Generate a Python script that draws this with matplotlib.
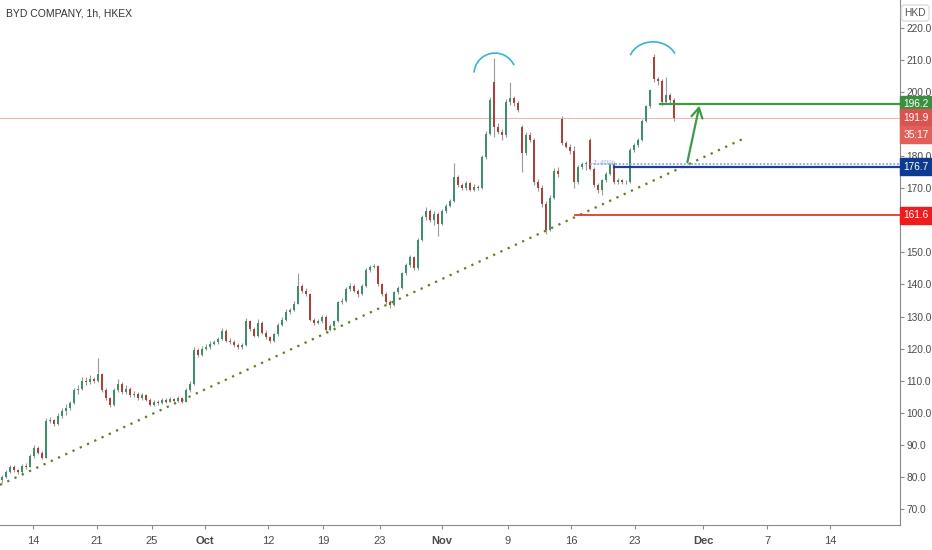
import numpy as np
import matplotlib.pyplot as plt
from matplotlib.patches import Arc
import matplotlib.transforms as mtransforms

plt.rcParams['font.family'] = ['Liberation Sans Narrow', 'Liberation Sans', 'DejaVu Sans']

# hourly-ish candles (about 3 bars per trading day)
opens = [79.0, 80.0, 81.5, 83.0, 82.0, 81.5, 83.5, 83.2, 86.5, 89.0,
         87.5, 86.0, 97.5, 97.8, 96.5, 99.0, 100.5, 101.5, 103.0, 107.0,
         107.5, 110.0, 109.5, 110.5, 110.0, 112.0, 107.0, 104.5, 102.5, 107.0,
         109.0, 106.5, 107.5, 105.5, 106.0, 104.5, 105.5, 104.0, 102.5, 103.5,
         103.0, 104.0, 103.5, 104.2, 103.8, 104.5, 103.5, 107.0, 109.0, 119.5,
         118.0, 120.0, 120.5, 121.5, 122.0, 123.0, 125.5, 122.5, 122.0, 121.0,
         120.5, 121.0, 128.5, 126.0, 124.0, 128.0, 125.0, 123.5, 122.5, 124.5,
         127.5, 129.0, 131.5, 132.0, 134.0, 139.5, 138.0, 137.0, 129.0, 128.0,
         128.5, 130.0, 125.8, 127.0, 128.5, 134.5, 135.0, 138.5, 139.5, 138.0,
         137.0, 139.5, 144.5, 145.5, 145.8, 140.0, 137.0, 134.5, 133.5, 137.5,
         139.0, 143.5, 146.0, 148.5, 145.0, 154.0, 161.0, 163.0, 160.0, 162.0,
         159.0, 163.0, 164.5, 166.0, 173.5, 171.0, 170.0, 171.5, 169.5, 170.5,
         170.0, 179.8, 187.0, 203.0, 189.0, 187.5, 186.5, 197.0, 198.0, 196.5,
         189.0, 181.0, 186.5, 185.0, 172.0, 170.0, 165.0, 157.0, 167.0, 175.5,
         191.5, 184.0, 183.0, 181.5, 172.0, 176.5, 177.5, 185.0, 176.0, 171.0,
         169.5, 172.5, 174.5, 177.5, 172.0, 172.5, 171.8, 172.0, 182.0, 183.5,
         185.0, 191.0, 195.5, 211.0, 204.0, 203.5, 197.0, 199.0, 197.5]
highs = [80.5, 82.0, 83.8, 83.6, 82.6, 84.0, 84.2, 87.0, 90.0, 89.6,
         88.0, 98.5, 98.8, 98.2, 99.8, 101.5, 102.6, 103.8, 107.8, 108.5,
         111.2, 111.0, 111.8, 111.2, 117.0, 112.5, 107.6, 105.0, 107.6, 110.4,
         109.5, 108.8, 108.0, 106.8, 106.5, 106.2, 106.0, 104.6, 104.0, 104.0,
         104.6, 104.5, 104.8, 104.6, 105.2, 105.0, 107.6, 109.8, 120.5, 120.2,
         120.8, 121.4, 122.4, 122.8, 123.6, 126.5, 126.0, 123.2, 122.6, 121.6,
         121.8, 129.5, 129.0, 126.6, 129.2, 128.6, 125.8, 124.0, 125.0, 128.0,
         129.8, 132.4, 132.8, 134.8, 143.6, 140.2, 138.8, 137.4, 129.6, 129.2,
         130.6, 130.4, 127.6, 129.0, 135.0, 135.8, 139.2, 140.6, 140.0, 138.6,
         140.2, 145.0, 146.2, 146.4, 146.2, 140.6, 137.5, 135.2, 138.0, 139.6,
         144.0, 146.8, 149.2, 149.0, 154.6, 161.8, 164.2, 163.6, 162.8, 162.5,
         163.6, 165.2, 166.8, 178.0, 174.2, 171.6, 172.2, 172.0, 171.4, 171.0,
         180.4, 188.0, 198.4, 210.6, 190.2, 188.4, 197.8, 203.0, 198.8, 197.2,
         189.6, 187.4, 187.6, 185.6, 173.0, 171.0, 166.0, 167.8, 176.2, 176.6,
         192.5, 184.8, 183.8, 183.2, 177.2, 178.2, 178.6, 185.6, 176.6, 171.6,
         173.0, 175.0, 178.0, 178.2, 173.2, 173.0, 172.6, 182.6, 184.2, 185.8,
         191.6, 196.0, 200.8, 212.0, 204.8, 204.0, 204.7, 199.8, 198.0]
lows = [78.2, 79.6, 81.2, 81.5, 80.8, 81.2, 82.6, 83.0, 86.0, 87.0,
        85.5, 85.8, 96.8, 95.8, 96.2, 98.5, 99.4, 100.8, 102.6, 105.8,
        107.0, 108.6, 109.0, 109.2, 109.6, 106.5, 104.0, 101.8, 102.0, 106.5,
        106.0, 106.0, 105.0, 105.0, 104.0, 104.0, 103.6, 102.0, 102.0, 102.5,
        102.6, 103.0, 103.2, 103.2, 103.5, 103.0, 103.2, 106.6, 108.8, 117.5,
        117.6, 119.5, 120.0, 121.0, 121.5, 122.6, 122.0, 121.4, 120.6, 119.8,
        120.0, 120.8, 125.5, 123.5, 123.6, 124.5, 123.0, 121.6, 122.0, 124.0,
        127.0, 128.6, 130.8, 131.6, 133.8, 137.4, 136.4, 128.5, 127.4, 127.6,
        128.0, 125.2, 125.4, 126.6, 128.2, 134.0, 134.6, 138.0, 137.5, 136.2,
        136.6, 139.2, 144.0, 145.0, 139.5, 136.5, 134.0, 132.8, 133.2, 137.0,
        138.6, 143.0, 145.6, 144.5, 144.6, 153.6, 160.0, 159.5, 158.6, 155.0,
        158.5, 162.4, 164.0, 165.6, 170.5, 169.4, 169.6, 169.0, 169.0, 169.4,
        169.8, 179.2, 186.6, 186.0, 186.8, 185.0, 186.0, 196.0, 195.6, 193.8,
        175.0, 180.4, 184.4, 171.0, 169.0, 164.0, 155.6, 156.6, 166.6, 173.6,
        183.4, 182.4, 180.8, 170.0, 171.4, 176.0, 175.8, 175.6, 170.4, 168.6,
        168.0, 172.0, 174.0, 171.4, 171.4, 171.2, 171.2, 171.6, 181.4, 183.0,
        184.6, 190.6, 195.0, 203.0, 202.2, 196.0, 196.6, 196.4, 191.0]
closes = [80.0, 81.5, 83.0, 82.0, 81.5, 83.5, 83.2, 86.5, 89.0, 87.5,
          86.0, 97.5, 97.8, 96.5, 99.0, 100.5, 101.5, 103.0, 107.0, 107.5,
          110.0, 109.5, 110.5, 110.0, 112.0, 107.0, 104.5, 102.5, 107.0, 109.0,
          106.5, 107.5, 105.5, 106.0, 104.5, 105.5, 104.0, 102.5, 103.5, 103.0,
          104.0, 103.5, 104.2, 103.8, 104.5, 103.5, 107.0, 109.0, 119.5, 118.0,
          120.0, 120.5, 121.5, 122.0, 123.0, 125.5, 122.5, 122.0, 121.0, 120.5,
          121.0, 128.5, 126.0, 124.0, 128.0, 125.0, 123.5, 122.5, 124.5, 127.5,
          129.0, 131.5, 132.0, 134.0, 139.5, 138.0, 137.0, 129.0, 128.0, 128.5,
          130.0, 125.8, 127.0, 128.5, 134.5, 135.0, 138.5, 139.5, 138.0, 137.0,
          139.5, 144.5, 145.5, 145.8, 140.0, 137.0, 134.5, 133.5, 137.5, 139.0,
          143.5, 146.0, 148.5, 145.0, 154.0, 161.0, 163.0, 160.0, 162.0, 159.0,
          163.0, 164.5, 166.0, 173.5, 171.0, 170.0, 171.5, 169.5, 170.5, 170.0,
          179.8, 187.0, 197.5, 189.0, 187.5, 186.5, 197.0, 198.0, 196.5, 194.5,
          181.0, 186.5, 185.0, 172.0, 170.0, 165.0, 157.0, 167.0, 175.5, 174.5,
          184.0, 183.0, 181.5, 172.0, 176.5, 177.5, 178.0, 176.0, 171.0, 169.5,
          172.5, 174.5, 177.5, 172.0, 172.5, 171.8, 172.0, 182.0, 183.5, 185.0,
          191.0, 195.5, 200.5, 204.0, 203.5, 197.0, 199.0, 197.5, 191.9]

tick_labels = ["14", "21", "25", "Oct", "12", "19", "23", "Nov", "9", "16",
               "23", "Dec", "7", "14"]
tick_bars = [7.75, 23.75, 37.5, 50.75, 66.5, 80.25, 94.5, 110.0, 126.5, 142.25,
             158.25, 175.25, 191.25, 207.0]

price_ticks = np.arange(70, 221, 10)
hidden_ticks = [160, 190]  # covered by the level boxes on the axis
last_price = 191.9
target = 196.2
support = 176.7
stop = 161.6

up_col = "#3f8f6b"
down_col = "#a8423a"

fig = plt.figure(figsize=(9.32, 5.5), dpi=100)
ax = fig.add_axes([0, 25 / 550, 900 / 932, 525 / 550])

o = np.array(opens)
c = np.array(closes)
h = np.array(highs)
l = np.array(lows)
x = np.arange(len(c))
cols = np.where(c >= o, up_col, down_col)

ax.vlines(x, l, h, color="#999999", lw=0.8, zorder=2)
ax.bar(x, np.maximum(np.abs(c - o), 0.25), bottom=np.minimum(o, c), width=0.6,
       color=cols, zorder=3)

# trend line (dotted)
trend_x = [-0.5, 185.75]
trend_y = [77.5, 185.7]
ax.plot(trend_x, trend_y, color="#5f7f1f", lw=1.6, ls=(0, (1, 2.6)), zorder=2)

# levels
ax.axhline(last_price, color="#f2b8b8", lw=0.8, zorder=1)
ax.plot([164.5, 224.5], [target, target], color="#3e9b45", lw=1.6, zorder=4)
ax.plot([153, 224.5], [support, support], color="#1c3f95", lw=1.6, zorder=4)
ax.plot([147, 224.5], [177.6, 177.6], color="#8aa8e0", lw=1.3, ls=(0, (1, 1)), zorder=4)
ax.plot([143.25, 224.5], [stop, stop], color="#e53935", lw=1.3, zorder=4)
ax.text(147.5, 177.6, "-1.40%", fontsize=5.5, color="#9fb6e0", va="center", zorder=5)

# arrow
ax.annotate("", xy=(174.5, 196.6), xytext=(171.2, 177.3),
            arrowprops=dict(arrowstyle="->,head_length=0.7,head_width=0.4",
                            color="#3e9b45", lw=1.6), zorder=5)

# cyan arcs over the two tops
ax.add_patch(Arc((123.25, 205.6), 10.5, 13.1, theta1=30, theta2=175,
                 color="#36b6c8", lw=1.2, zorder=5))
ax.add_patch(Arc((162.75, 209.4), 12, 12.5, theta1=25, theta2=160,
                 color="#36b6c8", lw=1.2, zorder=5))

ax.set_xlim(-0.5, 224.5)
ax.set_ylim(65.0, 228.7)

ax.yaxis.tick_right()
ax.set_yticks(price_ticks)
ax.set_yticklabels(["" if p in hidden_ticks else f"{p:.1f}" for p in price_ticks])
ax.tick_params(axis="y", length=3, color="#8a8a8a", labelsize=7.3,
               labelcolor="#4a4a4a", pad=1.5)
ax.set_xticks(tick_bars)
ax.set_xticklabels(tick_labels)
ax.tick_params(axis="x", length=3, color="#8a8a8a", labelsize=8,
               labelcolor="#4a4a4a", pad=5)
for t in ax.get_xticklabels():
    if t.get_text() in ("Oct", "Nov", "Dec"):
        t.set_fontweight("bold")

for s in ["top", "left"]:
    ax.spines[s].set_visible(False)
ax.spines["right"].set_color("#8a8a8a")
ax.spines["bottom"].set_color("#8a8a8a")

# price boxes on the axis
tr = mtransforms.blended_transform_factory(ax.transAxes, ax.transData)
def price_box(val, colr, label=None, dy=0):
    ax.annotate(label if label else f"{val:.1f}", xy=(1.0, val), xycoords=tr,
                xytext=(2.5, dy), textcoords="offset points", fontsize=7.3,
                color="white", va="center", ha="left", zorder=10,
                annotation_clip=False,
                bbox=dict(boxstyle="square,pad=0.35", fc=colr, ec=colr))

price_box(target, "#3b8f3e")
price_box(last_price, "#d9534f")
price_box(last_price, "#e0605a", label="35:17", dy=-12)
price_box(support, "#0d3b8f")
price_box(stop, "#ee1c1c")

fig.text(926 / 932, 1 - 13 / 550, "HKD", fontsize=7.3, color="#555555",
         ha="right", va="center",
         bbox=dict(boxstyle="round,pad=0.3", fc="white", ec="#dddddd"))
fig.text(6 / 932, 1 - 13 / 550, "BYD COMPANY, 1h, HKEX", fontsize=7.5,
         color="#333333", ha="left", va="center")

fig.savefig("out.png", dpi=100)
